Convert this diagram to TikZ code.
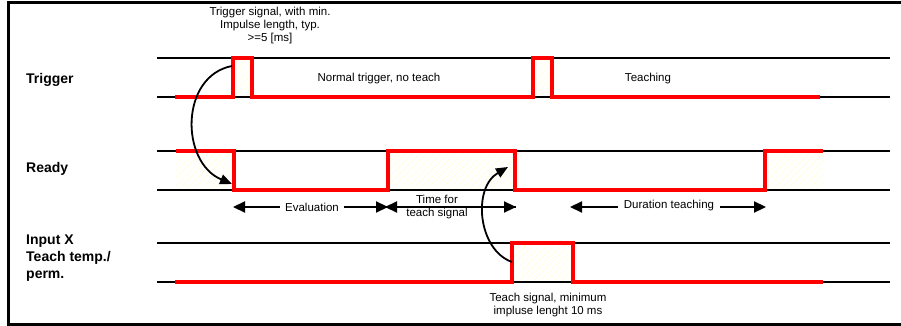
\documentclass[tikz,border=0pt]{standalone}
\usepackage{fontspec}
\setmainfont{Liberation Sans}
\usetikzlibrary{arrows.meta,patterns.meta}
\definecolor{sigred}{RGB}{255,0,0}
\tikzset{
  x=1pt,y=-1pt,
  frameline/.style={line width=3pt,black},
  baseline/.style={line width=2pt,black},
  signal/.style={line width=3.5pt,sigred,line join=miter},
  hatch/.style={pattern={Lines[angle=45,distance=5pt,line width=0.5pt]},pattern color=yellow!18},
  lbl/.style={font=\fontsize{14}{16}\selectfont\bfseries,anchor=west,inner sep=0pt},
  txt/.style={font=\fontsize{11.5}{13}\selectfont,inner sep=0pt,align=center},
  dimarrow/.style={line width=2.2pt,-{Triangle[length=12pt,width=11pt]}},
  curvearrow/.style={line width=1.8pt,-{Triangle[length=12pt,width=10pt]}}
}
\begin{document}
\begin{tikzpicture}
\useasboundingbox (0,0) rectangle (901,326);
% frame (open on the right)
\draw[frameline] (901,3) -- (8,3) -- (8,324) -- (901,324);
% hatched high areas
\fill[hatch] (233,58) rectangle (252,97);
\fill[hatch] (533,58) rectangle (552,97);
\fill[hatch] (176,151) rectangle (234,190);
\fill[hatch] (388,151) rectangle (515,190);
\fill[hatch] (765,151) rectangle (823,190);
\fill[hatch] (512,243) rectangle (573,282);
% level lines
\foreach \yy in {58,97,151,190,243,282}
  \draw[baseline] (157,\yy) -- (890,\yy);
% signals
\draw[signal] (175,97) -- (233,97) -- (233,58) -- (252,58) -- (252,97) -- (533,97) -- (533,58) -- (552,58) -- (552,97) -- (820,97);
\draw[signal] (176,151) -- (234,151) -- (234,190) -- (388,190) -- (388,151) -- (515,151) -- (515,190) -- (765,190) -- (765,151) -- (823,151);
\draw[signal] (175,282) -- (512,282) -- (512,243) -- (573,243) -- (573,282) -- (823,282);
% row labels
\node[lbl] (ltrig) at (26,80) {Trigger};
\node[lbl] (lready) at (26,169) {Ready};
\node[lbl,align=left,anchor=north west,font=\fontsize{14}{17}\selectfont\bfseries] (linput) at (26,235) {Input X\\Teach temp./\\perm.};
% texts
\node[txt] (ttop) at (270,26) {Trigger signal, with min.\\Impulse length, typ.\\>=5 [ms]};
\node[txt] (tnormal) at (379,79) {Normal trigger, no teach};
\node[txt] (tteach) at (648,79) {Teaching};
\node[txt,anchor=center] (teval) at (312,207) {Evaluation};
\node[txt,font=\fontsize{11.5}{12.5}\selectfont] (ttime) at (437,207) {Time for\\teach signal};
\node[txt] (tdur) at (669,206) {Duration teaching};
\node[txt] (tsig) at (548,305) {Teach signal, minimum\\impluse lenght 10 ms};
% dimension arrows
\coordinate (evL) at (233,207);
\coordinate (evR) at (388,207);
\coordinate (tmL) at (385,207);
\coordinate (tmR) at (516,207);
\coordinate (duL) at (570,207);
\coordinate (duR) at (766,207);
\draw[dimarrow] (teval.west |- evL) ++(-5,0) -- (evL);
\draw[dimarrow] (teval.east |- evR) ++(5,0) -- (evR);
\draw[dimarrow] (tmR) -- (tmL);
\draw[dimarrow] (tmL) -- (tmR);
\draw[dimarrow] (tdur.west |- duL) ++(-6,0) -- (duL);
\draw[dimarrow] (tdur.east |- duR) ++(6,0) -- (duR);
% curved arrows
\coordinate (c1s) at (232,66);
\coordinate (c1e) at (232,184);
\coordinate (c2s) at (512,262);
\coordinate (c2e) at (508,167);
\draw[curvearrow] (c1s) .. controls (180,76) and (180,162) .. (c1e);
\draw[curvearrow] (c2s) .. controls (478,250) and (472,188) .. (c2e);
\end{tikzpicture}
\end{document}
